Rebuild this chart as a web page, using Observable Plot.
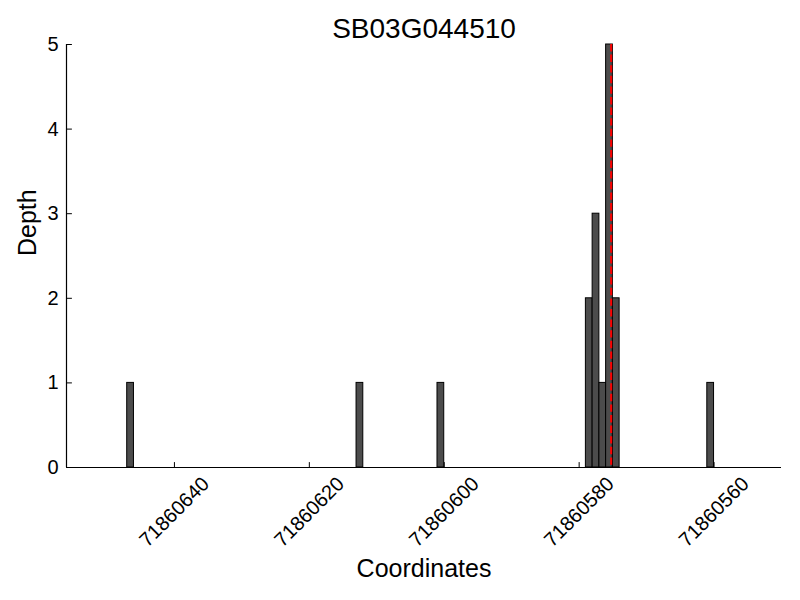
<!DOCTYPE html>
<html>
<head>
<meta charset="utf-8">
<script src="https://cdn.jsdelivr.net/npm/d3@7"></script>
<script src="https://cdn.jsdelivr.net/npm/@observablehq/plot@0.6"></script>
<style>
  html, body { margin: 0; padding: 0; background: #fff; }
  svg { display: block; }
</style>
</head>
<body>
<div id="chart"></div>
<script>
// ---- data ----
const title = "SB03G044510";
const xLabel = "Coordinates";
const yLabel = "Depth";
const positions = [71860646, 71860612, 71860600, 71860578, 71860577, 71860576, 71860575, 71860574, 71860560];
const depths    = [1, 1, 1, 2, 3, 1, 5, 2, 1];
const markerPos = [71860575.25];
const xTicks = [71860640, 71860620, 71860600, 71860580, 71860560];
const xTickLabels = ["71860640", "71860620", "71860600", "71860580", "71860560"];
const yTicks = [0, 1, 2, 3, 4, 5];
const xDomain = [71860656, 71860550];
const yDomain = [0, 5];

const bars = positions.map((p, i) => ({start: p, end: p + 1, depth: depths[i]}));
const xTickData = xTicks.map((v, i) => ({v, label: xTickLabels[i]}));

const font = "Liberation Sans, Arial, Helvetica, sans-serif";
const tickShape = {draw(ctx, l) { ctx.moveTo(0, 0); ctx.lineTo(0, -l); }};

const chart = Plot.plot({
  width: 800,
  height: 600,
  marginLeft: 66,
  marginRight: 19,
  marginTop: 44,
  marginBottom: 133,
  style: {fontFamily: font, background: "#fff", color: "#000", overflow: "visible"},
  x: {domain: xDomain, axis: null},
  y: {domain: yDomain, axis: null},
  marks: [
    Plot.rectY(bars, {x1: "start", x2: "end", y1: 0, y2: "depth", fill: "#4c4c4c", stroke: "#000", strokeWidth: 1}),
    Plot.ruleX(markerPos, {stroke: "#ff0000", strokeWidth: 2, strokeDasharray: "7.4,3.2"}),
    // spines
    Plot.ruleY([yDomain[0]], {stroke: "#000", strokeWidth: 1.2}),
    Plot.ruleX([xDomain[0]], {stroke: "#000", strokeWidth: 1.2}),
    // inward ticks
    Plot.vector(xTicks, {x: d => d, frameAnchor: "bottom", length: 5, rotate: 0, anchor: "start", shape: tickShape, stroke: "#000", strokeWidth: 1}),
    Plot.vector(yTicks, {y: d => d, frameAnchor: "left", length: 5, rotate: 90, anchor: "start", shape: tickShape, stroke: "#000", strokeWidth: 1}),
    // tick labels
    Plot.text(xTickData, {x: "v", text: "label", frameAnchor: "bottom", rotate: -45, textAnchor: "middle", lineAnchor: "middle", dy: 44.5, fontSize: 20, fill: "#000"}),
    Plot.text(yTicks, {y: d => d, text: d => String(d), frameAnchor: "left", textAnchor: "end", lineAnchor: "middle", dx: -8, fontSize: 20, fill: "#000"}),
    // titles
    Plot.text([title], {text: d => d, frameAnchor: "top", lineAnchor: "middle", dy: -15, fontSize: 28, fill: "#000"}),
    Plot.text([xLabel], {text: d => d, frameAnchor: "bottom", lineAnchor: "middle", dy: 101, fontSize: 25, fill: "#000"}),
    Plot.text([yLabel], {text: d => d, frameAnchor: "left", lineAnchor: "middle", rotate: -90, dx: -39, fontSize: 25, fill: "#000"})
  ]
});
document.getElementById("chart").appendChild(chart);
</script>
</body>
</html>
